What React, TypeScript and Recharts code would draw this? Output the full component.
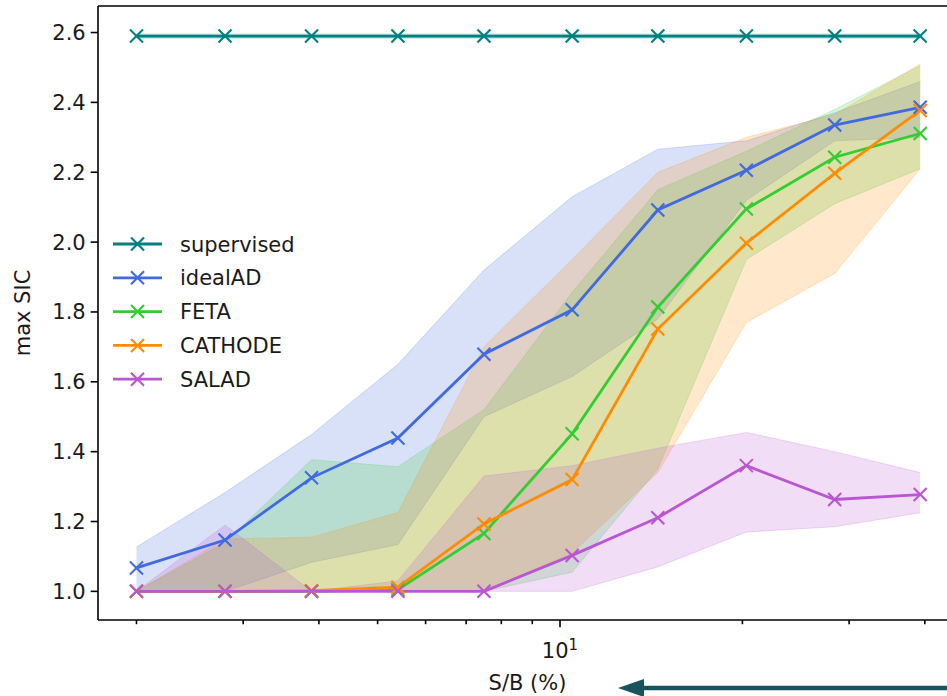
import React from 'react';
import { ComposedChart, Line, Area, XAxis, YAxis, ReferenceLine } from 'recharts';

// ---------- data ----------
const SB = [2.0, 2.8, 3.89, 5.4, 7.49, 10.47, 14.5, 20.3, 28.4, 39.3];
const X_TICKS = [2, 3, 4, 5, 6, 7, 8, 9, 10, 20, 30, 40];
const X_MAJOR = [10];
const Y_TICKS = [1.0, 1.2, 1.4, 1.6, 1.8, 2.0, 2.2, 2.4, 2.6];
const X_DOMAIN: [number, number] = [1.728, 45.2];
const Y_DOMAIN: [number, number] = [0.918, 2.676];

const SERIES_NAMES = ['supervised', 'idealAD', 'FETA', 'CATHODE', 'SALAD'];
const SERIES_COLORS = ['#008080', '#4169e1', '#32cd32', '#ff8c00', '#ba55d3'];

const supervisedMean = [2.59, 2.59, 2.59, 2.59, 2.59, 2.59, 2.59, 2.59, 2.59, 2.59];
const supervisedLow = [2.584, 2.584, 2.584, 2.584, 2.584, 2.584, 2.584, 2.584, 2.584, 2.584];
const supervisedHigh = [2.596, 2.596, 2.596, 2.596, 2.596, 2.596, 2.596, 2.596, 2.596, 2.596];

const idealMean = [1.067, 1.147, 1.325, 1.439, 1.679, 1.806, 2.092, 2.206, 2.335, 2.386];
const idealLow = [1.0, 1.0, 1.083, 1.134, 1.5, 1.615, 1.78, 2.12, 2.29, 2.3];
const idealHigh = [1.127, 1.283, 1.449, 1.65, 1.92, 2.13, 2.266, 2.29, 2.37, 2.46];

const fetaMean = [1.0, 1.0, 1.0, 1.005, 1.166, 1.451, 1.814, 2.095, 2.243, 2.311];
const fetaLow = [1.0, 1.0, 1.0, 1.0, 1.0, 1.055, 1.35, 1.95, 2.11, 2.21];
const fetaHigh = [1.0, 1.14, 1.377, 1.357, 1.52, 1.856, 2.15, 2.26, 2.38, 2.505];

const cathodeMean = [1.0, 1.0, 1.002, 1.012, 1.193, 1.32, 1.751, 1.997, 2.197, 2.377];
const cathodeLow = [1.0, 1.0, 1.0, 1.0, 1.0, 1.11, 1.34, 1.77, 1.91, 2.21];
const cathodeHigh = [1.0, 1.15, 1.155, 1.226, 1.7, 1.95, 2.2, 2.3, 2.365, 2.51];

const saladMean = [1.0, 1.0, 1.0, 1.0, 1.0, 1.103, 1.211, 1.36, 1.263, 1.277];
const saladLow = [1.0, 1.0, 1.0, 1.0, 1.0, 1.0, 1.07, 1.17, 1.185, 1.225];
const saladHigh = [1.0, 1.19, 1.0, 1.03, 1.33, 1.36, 1.41, 1.455, 1.4, 1.34];

const MEANS = [supervisedMean, idealMean, fetaMean, cathodeMean, saladMean];
const LOWS = [supervisedLow, idealLow, fetaLow, cathodeLow, saladLow];
const HIGHS = [supervisedHigh, idealHigh, fetaHigh, cathodeHigh, saladHigh];

const rows = SB.map((x, i) => {
  const r: any = { x };
  SERIES_NAMES.forEach((n, k) => {
    r[n] = MEANS[k][i];
    r[n + '_band'] = [LOWS[k][i], HIGHS[k][i]];
  });
  return r;
});

// ---------- styling ----------
const FONT = '"DejaVu Sans", Verdana, sans-serif';
const TEXT = '#1a1a1a';
const CHART_W = 970;
const CHART_H = 696;

const XMark = ({ cx, cy, color, r = 6.5 }: any) => {
  if (cx == null || cy == null) return null;
  return (
    <g>
      <line x1={cx - r} y1={cy - r} x2={cx + r} y2={cy + r} stroke={color} strokeWidth={2.1} />
      <line x1={cx - r} y1={cy + r} x2={cx + r} y2={cy - r} stroke={color} strokeWidth={2.1} />
    </g>
  );
};

const XTick = (props: any) => {
  const { x, y, payload } = props;
  const major = X_MAJOR.includes(payload.value);
  return (
    <g>
      <line x1={x} x2={x} y1={y} y2={y + (major ? 7.3 : 4.2)} stroke="#000" strokeWidth={1.6} />
      {major && (
        <text x={x} y={y + 38} textAnchor="middle" fontFamily={FONT} fontSize={21} fill={TEXT}>
          <tspan>10</tspan>
          <tspan dy={-8} fontSize={15}>1</tspan>
        </text>
      )}
    </g>
  );
};

const XLabel = (props: any) => {
  const vb = props.viewBox || {};
  const cx = (vb.x ?? 98) + (vb.width ?? 859) / 2;
  return (
    <text x={cx} y={690} textAnchor="middle" fontFamily={FONT} fontSize={21} fill={TEXT}>
      S/B (%)
    </text>
  );
};

const LegendBox = () => (
  <svg width={260} height={190} style={{ position: 'absolute', left: 100, top: 222 }}>
    {SERIES_NAMES.map((n, i) => {
      const cy = 22 + i * 33.8;
      return (
        <g key={n}>
          <line x1={13} x2={62} y1={cy} y2={cy} stroke={SERIES_COLORS[i]} strokeWidth={2.8} />
          <XMark cx={37.5} cy={cy} color={SERIES_COLORS[i]} />
          <text x={80} y={cy + 7.5} fontFamily={FONT} fontSize={21} fill={TEXT}>
            {n}
          </text>
        </g>
      );
    })}
  </svg>
);

const Arrow = () => (
  <svg width={947} height={696} style={{ position: 'absolute', left: 0, top: 0, pointerEvents: 'none' }}>
    <line x1={640} x2={947} y1={688} y2={688} stroke="#18535e" strokeWidth={4.5} />
    <polygon points="618,688 644,679 644,697" fill="#18535e" />
  </svg>
);

export default function App() {
  return (
    <div
      style={{
        position: 'fixed',
        left: 0,
        top: 0,
        width: 947,
        height: 696,
        overflow: 'hidden',
        background: '#fff',
      }}
    >
      <ComposedChart
        width={CHART_W}
        height={CHART_H}
        data={rows}
        margin={{ top: 6, right: 13, bottom: 0, left: 0 }}
      >
        <XAxis
          dataKey="x"
          type="number"
          scale="log"
          domain={X_DOMAIN}
          allowDataOverflow
          ticks={X_TICKS}
          interval={0}
          height={76}
          tickLine={false}
          tickSize={0}
          tickMargin={0}
          tick={<XTick />}
          axisLine={{ stroke: '#000', strokeWidth: 1.6 }}
          label={<XLabel />}
        />
        <YAxis
          type="number"
          domain={Y_DOMAIN}
          allowDataOverflow
          ticks={Y_TICKS}
          interval={0}
          width={98}
          tickSize={7.3}
          tickMargin={5}
          tickLine={{ stroke: '#000', strokeWidth: 1.6 }}
          axisLine={{ stroke: '#000', strokeWidth: 1.6 }}
          tickFormatter={(v: number) => v.toFixed(1)}
          tick={{ fontFamily: FONT, fontSize: 21, fill: TEXT }}
          label={{
            value: 'max SIC',
            angle: -90,
            position: 'center',
            dx: -26,
            style: { fontFamily: FONT, fontSize: 21, fill: TEXT, textAnchor: 'middle' },
          }}
        />
        <ReferenceLine y={Y_DOMAIN[1]} stroke="#000" strokeWidth={1.6} />
        {SERIES_NAMES.map((n, k) => (
          <Area
            key={n + '_band'}
            dataKey={n + '_band'}
            type="linear"
            fill={SERIES_COLORS[k]}
            fillOpacity={0.2}
            stroke={SERIES_COLORS[k]}
            strokeOpacity={0.2}
            strokeWidth={1}
            isAnimationActive={false}
            activeDot={false}
            dot={false}
          />
        ))}
        {SERIES_NAMES.map((n, k) => (
          <Line
            key={n}
            dataKey={n}
            type="linear"
            stroke={SERIES_COLORS[k]}
            strokeWidth={2.8}
            isAnimationActive={false}
            activeDot={false}
            dot={(p: any) => <XMark key={n + '-' + p.index} cx={p.cx} cy={p.cy} color={SERIES_COLORS[k]} />}
          />
        ))}
      </ComposedChart>
      <LegendBox />
      <Arrow />
    </div>
  );
}
